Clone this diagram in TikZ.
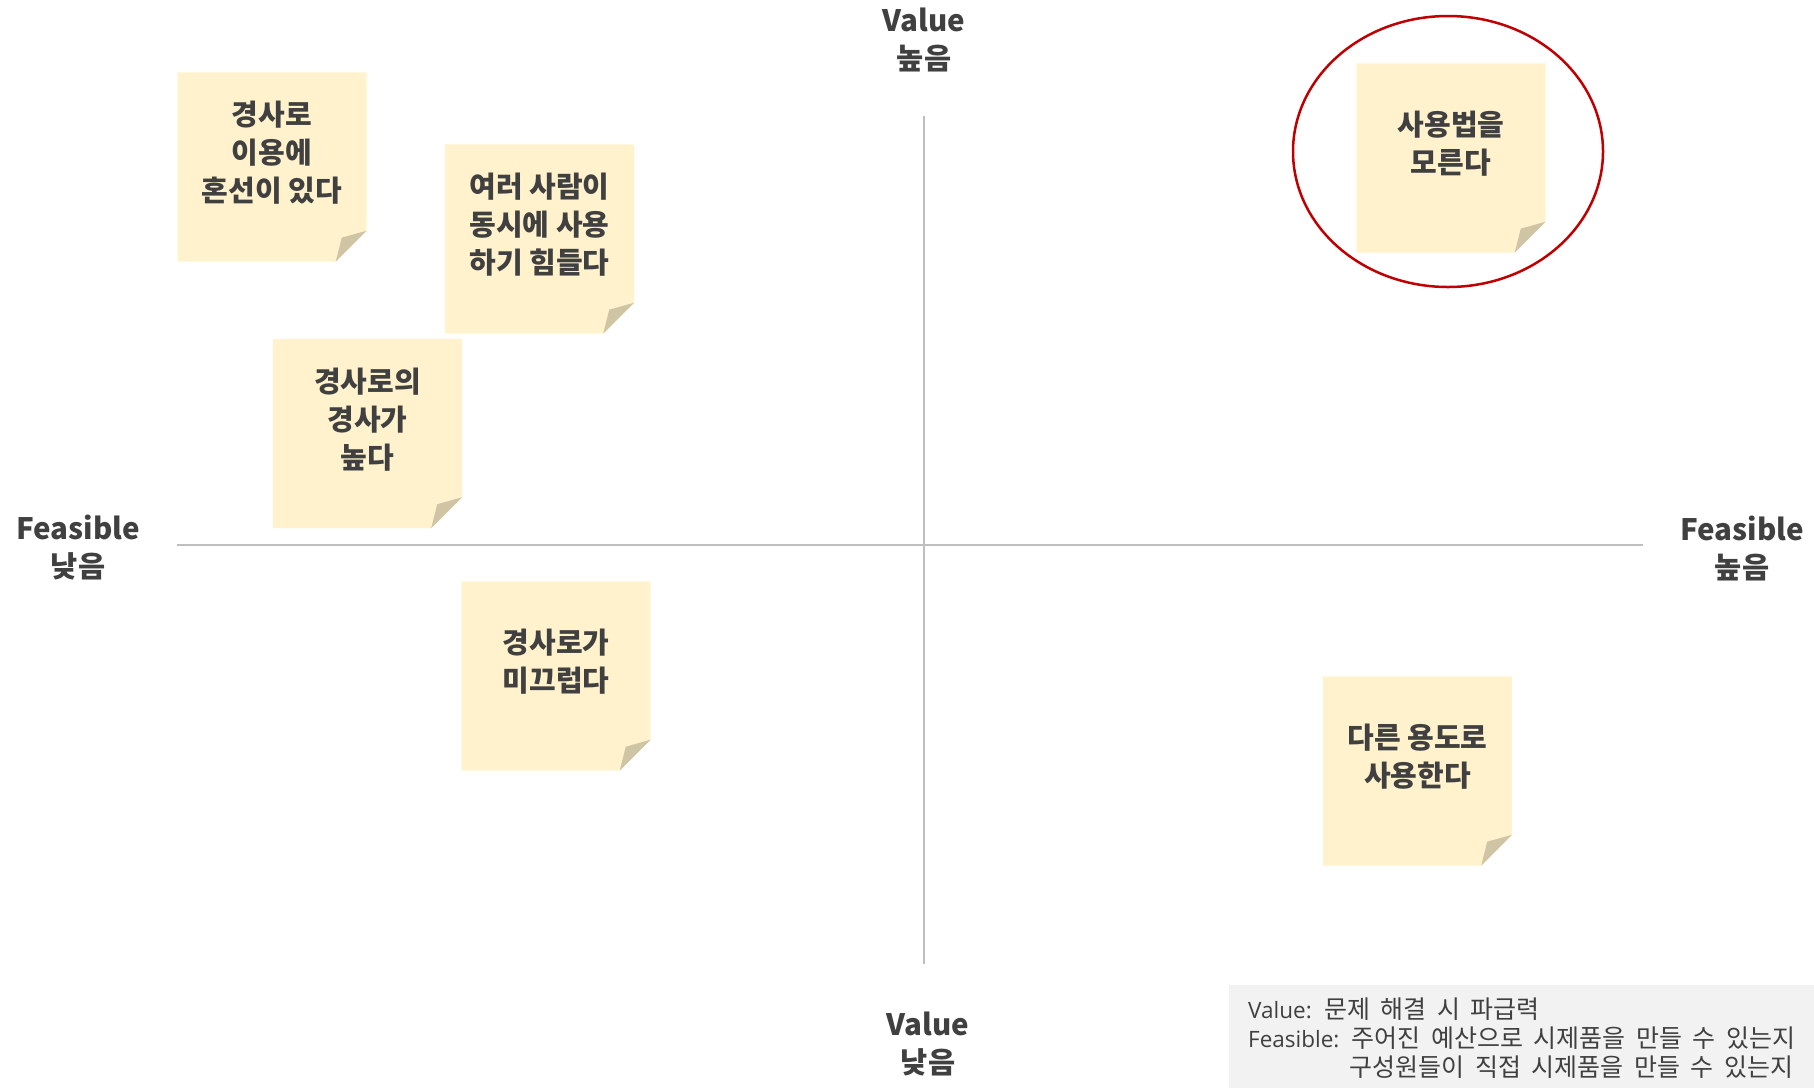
\documentclass[tikz,border=0pt]{standalone}
\usepackage{fontspec}
\setmainfont{Noto Sans CJK KR}
\newfontfamily\latfont{Open Sans}
\usetikzlibrary{shapes.geometric}
\definecolor{txt}{HTML}{404040}
\definecolor{axisgray}{HTML}{BFBFBF}
\definecolor{notefill}{HTML}{FFF2CC}
\definecolor{foldfill}{HTML}{CFC5A5}
\definecolor{hlred}{HTML}{C00000}
\definecolor{legendgray}{HTML}{F2F2F2}
\newcommand\sticky[4]{%
  \node[note] (#1) at (#2,#3) {};
  \fill[notefill] (#1.north west) -- (#1.north east) -- ([yshift=31pt]#1.south east)
     -- ([xshift=-31pt]#1.south east) -- (#1.south west) -- cycle;
  \fill[foldfill] ([yshift=31pt]#1.south east) -- ([xshift=-31pt]#1.south east)
     -- ([xshift=-25pt,yshift=24pt]#1.south east) -- cycle;
  \node[notetext] (#1t) at ([yshift=14pt]#1.center) {#4};
}
\newcommand\latpart[1]{{\latfont\fontsize{22.5}{28.5}\selectfont #1}}
\newcommand\widespaces{\spaceskip=10.5pt plus 1pt\relax}
\begin{document}
\begin{tikzpicture}[x=1pt,y=-1pt,
  axis/.style={draw=axisgray, line width=2pt},
  note/.style={minimum width=189pt, minimum height=189pt, inner sep=0pt},
  notetext/.style={font=\bfseries\fontsize{29}{38}\selectfont, text=txt, align=center, inner sep=0pt},
  axislabel/.style={font=\bfseries\fontsize{29.5}{38}\selectfont, text=txt, align=center, inner sep=0pt},
  legendtext/.style={font=\fontsize{25}{28.8}\selectfont\widespaces, text=txt, align=left, inner sep=0pt, anchor=north west},
  highlight/.style={draw=hlred, line width=2.5pt, ellipse, inner sep=0pt}]
\useasboundingbox (0,0) rectangle (1814,1088);
% axes
\coordinate (xl) at (177,545);
\coordinate (xr) at (1643,545);
\coordinate (yt) at (924,116);
\coordinate (yb) at (924,964);
\draw[axis] (xl) -- (xr);
\draw[axis] (yt) -- (yb);
% axis labels
\node[axislabel] (vhigh) at (924,40) {Value\\높음};
\node[axislabel] (vlow) at (928,1044) {Value\\낮음};
\node[axislabel] (flow) at (78,548) {Feasible\\낮음};
\node[axislabel] (fhigh) at (1742,548) {Feasible\\높음};
% sticky notes
\sticky{n1}{272}{167}{경사로\\이용에\\혼선이 있다}
\sticky{n2}{539.5}{239}{여러 사람이\\동시에 사용\\하기 힘들다}
\sticky{n3}{367.5}{433.5}{경사로의\\경사가\\높다}
\sticky{n4}{556}{676}{경사로가\\미끄럽다}
\sticky{n5}{1451}{158}{사용법을\\모른다}
\sticky{n6}{1417.5}{771}{다른 용도로\\사용한다}
% highlight
\node[highlight, minimum width=310pt, minimum height=271pt] (hl) at (1448,151.5) {};
% legend
\node[fill=legendgray, minimum width=585pt, minimum height=103pt, anchor=north west, inner sep=0pt] (legendbox) at (1229,985) {};
\node[legendtext] (legend) at (1248,998) {\latpart{Value:} 문제 해결 시 파급력\\\latpart{Feasible:} 주어진 예산으로 시제품을 만들 수 있는지\\\phantom{\latpart{Feasible:}\ }구성원들이 직접 시제품을 만들 수 있는지};
\end{tikzpicture}
\end{document}
